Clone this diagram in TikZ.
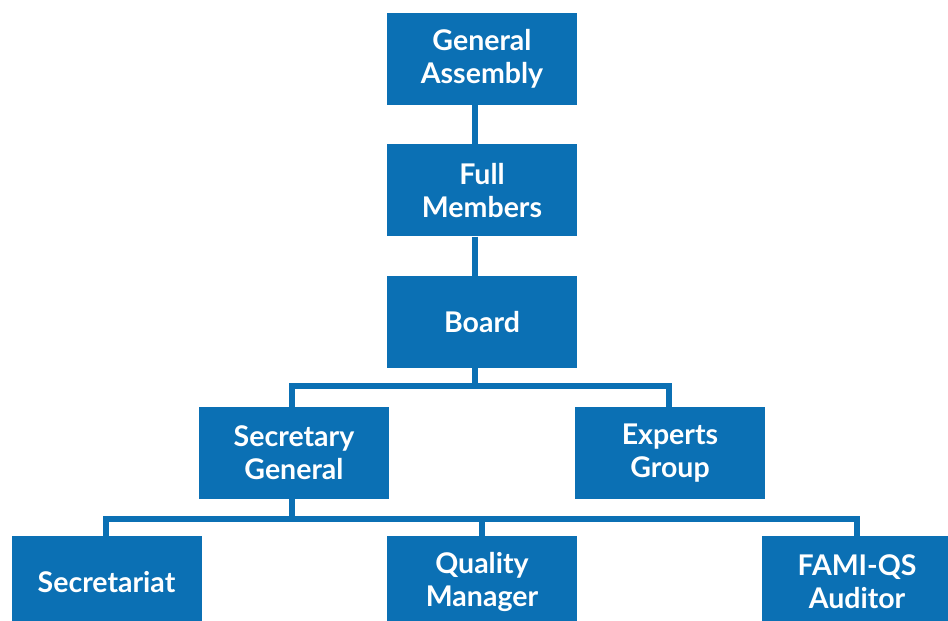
\documentclass[tikz,border=0pt]{standalone}
\usepackage{fontspec}
\setmainfont{Lato}
\usetikzlibrary{positioning,calc}
\definecolor{orgblue}{RGB}{11,112,180}

\begin{document}
\begin{tikzpicture}[x=1pt,y=1pt,
    unit/.style={rectangle,fill=orgblue,text=white,font=\fontsize{28.5}{33}\selectfont\bfseries,
        align=center,minimum width=190pt,minimum height=92pt,inner sep=0pt},
    link/.style={draw=orgblue,line width=6pt}]
        \useasboundingbox (0,0) rectangle (948,621);
        \node[unit] (ga) at (482,562) {General\\Assembly};
        \node[unit] (fm) [below=39pt of ga] {Full\\Members};
        \node[unit] (board) [below=39pt of fm] {Board};
        \node[unit] (sg) at (294,168) {Secretary\\General};
        \node[unit] (eg) at (670,168) {Experts\\Group};
        \node[unit] (sec) at (106.5,39) {Secretariat};
        \node[unit] (qm) at (482,39) {Quality\\Manager};
        \node[unit] (fami) at (857,39) {FAMI-QS\\Auditor};

        \coordinate (split1) at (474.5,235);
        \coordinate (split2) at (292,102);

        \draw[link] ([xshift=-7.5pt]ga.south) -- ([xshift=-7.5pt]fm.north);
        \draw[link] ([xshift=-7.5pt]fm.south) -- ([xshift=-7.5pt]board.north);
        \draw[link] ([xshift=-7.5pt]board.south) -- (split1);
        \draw[link] ([xshift=-2pt]sg.north) |- (split1) -| ([xshift=-1pt]eg.north);
        \draw[link] (split2) -- ([xshift=-2pt]sg.south);
        \draw[link] ([xshift=-0.5pt]sec.north) |- (split2) -| (fami.north);
        \draw[link] (qm.north) -- (qm.north |- split2);
    \end{tikzpicture}
\end{document}
